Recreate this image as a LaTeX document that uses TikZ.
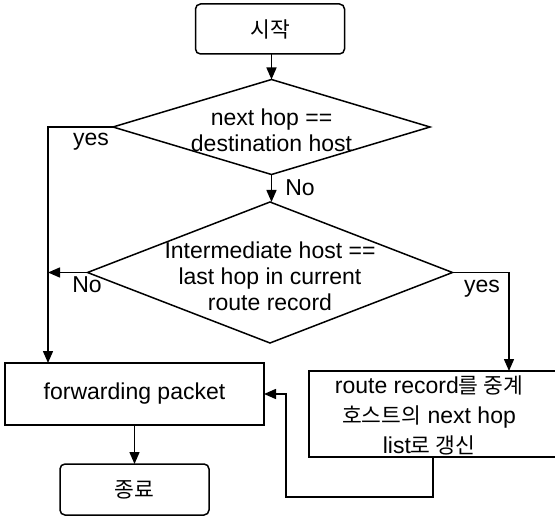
\documentclass[tikz,border=0pt]{standalone}
\usepackage{fontspec}
\setmainfont{Liberation Sans}
\newfontfamily\krfont{Noto Sans CJK KR}
\newcommand\hangul[1]{{\krfont\fontsize{21.5}{26}\selectfont #1}}
\usetikzlibrary{shapes.geometric,arrows.meta}
\begin{document}
\begin{tikzpicture}[x=1pt,y=-1pt,
  line width=1.5pt,
  every node/.style={font=\fontsize{23}{26}\selectfont},
  box/.style={draw, rectangle, inner sep=0pt, outer sep=0pt},
  term/.style={box, rounded corners=5pt},
  dia/.style={draw, diamond, inner sep=0pt, outer sep=0pt},
  txt/.style={inner sep=0pt, align=center},
  arr/.style={-{Triangle[length=12pt,width=10pt]}},
  ]
\useasboundingbox (0,0) rectangle (555,516);
\node[term, minimum width=149pt, minimum height=50pt] (start) at (270,29) {\hangul{시작}};
\node[dia, minimum width=317pt, minimum height=95pt] (d1) at (271.5,127) {};
\node[txt] (d1t) at (271.5,130) {next hop ==\\destination host};
\node[dia, minimum width=365pt, minimum height=141pt] (d2) at (270,272.5) {};
\node[txt] (d2t) at (270,276) {Intermediate host ==\\last hop in current\\route record};
\node[box, minimum width=259pt, minimum height=62pt] (fwd) at (134.5,394) {forwarding packet};
\node[term, minimum width=149pt, minimum height=51pt] (end) at (134.5,489.5) {\hangul{종료}};
\node[box, minimum width=251pt, minimum height=86pt] (upd) at (434.5,414) {};
\node[txt] (updt) at (429,415) {route record\hangul{를 중계}\\[4pt]\hangul{호스트의} next hop\\[4pt]list\hangul{로 갱신}};
\node[txt] (lyes1) at (91,142) {yes};
\node[txt] (lno1) at (300,188) {No};
\node[txt] (lno2) at (87,285) {No};
\node[txt] (lyes2) at (482,289) {yes};
\coordinate (c1) at (48,127);
\coordinate (c2) at (509,272.5);
\coordinate (c3) at (433,497);
\coordinate (c4) at (286,497);
\draw[arr] (start.south -| d1.north) -- (d1.north);
\draw[arr] (d1.south) -- (d1.south |- d2.north);
\draw[arr] (d1.west) -- (c1) -- (c1 |- fwd.north);
\draw[arr] (d2.west) -- (c1 |- d2.west);
\draw[arr] (d2.east) -- (c2) -- (c2 |- upd.north);
\draw[arr] (c3 |- upd.south) -- (c3) -- (c4) -- (c4 |- fwd.east) -- (fwd.east);
\draw[arr] (fwd.south) -- (end.north);
\end{tikzpicture}
\end{document}
